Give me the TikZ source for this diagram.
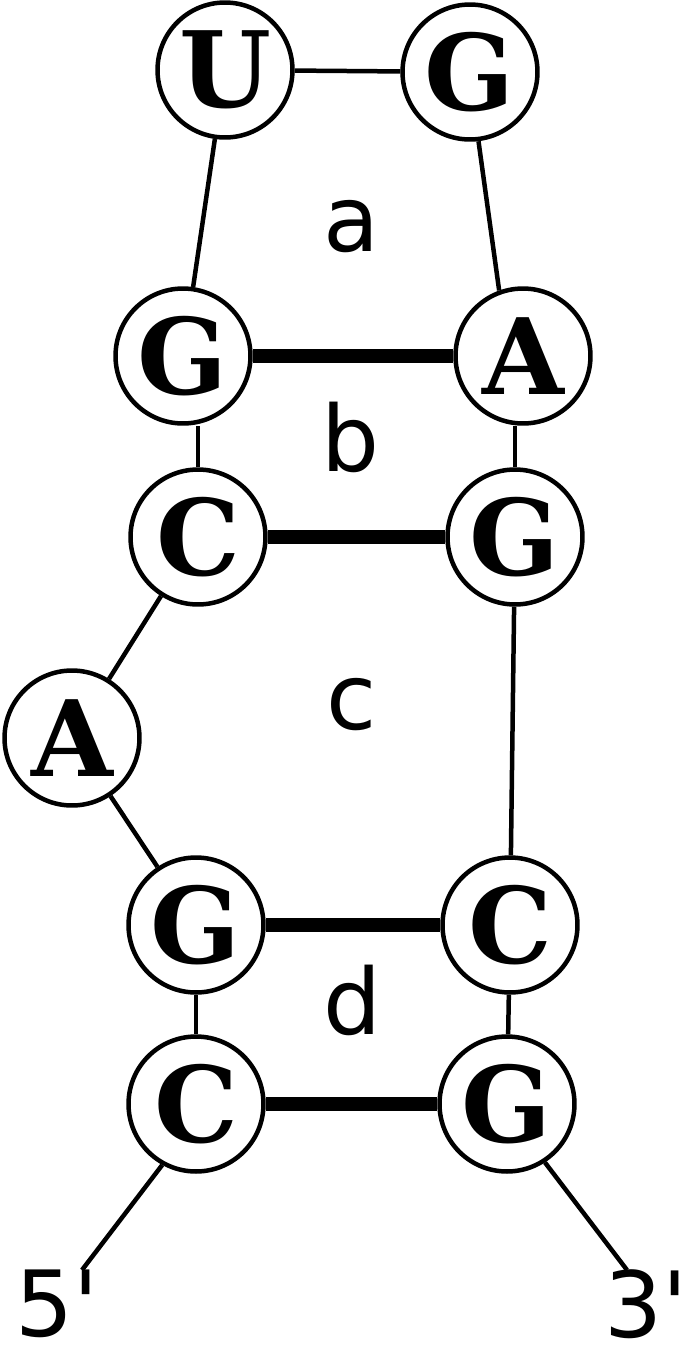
\documentclass[tikz,border=0pt]{standalone}
\usepackage{fontspec}
\setmainfont{DejaVu Sans}
\newfontfamily\nucfont{DejaVu Serif}
\usepackage{tikz}

\begin{document}
\begin{tikzpicture}[x=0.02cm, y=-0.02cm,
  nuc/.style={draw, circle, line width=0.09cm, minimum size=2.7cm, inner sep=0pt,
    font=\nucfont\bfseries\fontsize{60}{60}\selectfont},
  tag/.style={inner sep=0pt, font=\fontsize{52}{60}\selectfont},
  chain/.style={line width=0.09cm},
  pair/.style={line width=0.28cm}]

\useasboundingbox (0,0) rectangle (685,1353);

% hairpin loop (a)
\node[nuc] (u1) at (225,70) {U};
\node[nuc] (g1) at (470,72) {G};
\node[nuc] (g2) at (183,356) {G};
\node[nuc] (a1) at (523,356) {A};
\draw[chain] (u1) -- (g1);
\draw[chain] (u1) -- (g2);
\draw[chain] (g1.277) -- (a1.110);
\node[tag] (la) at (351,227) {a};

% first stem (b)
\node[nuc] (c1) at (198,537) {C};
\node[nuc] (g3) at (515,537) {G};
\draw[pair] (g2) -- (a1);
\draw[pair] (c1) -- (g3);
\draw[chain] (c1.north) -- (c1.north |- g2.south);
\draw[chain] (g3.north) -- (g3.north |- a1.south);
\node[tag] (lb) at (350,437) {b};

% bulge with the extra A (c)
\node[nuc] (a2) at (72,738) {A};
\node[nuc] (g4) at (196,925) {G};
\node[nuc] (c2) at (510,925) {C};
\draw[chain] (c1) -- (a2);
\draw[chain] (a2) -- (g4);
\draw[chain] (g3) -- (c2);
\node[tag] (lc) at (352,705) {c};

% second stem (d)
\node[nuc] (c3) at (196,1104) {C};
\node[nuc] (g5) at (507,1104) {G};
\draw[pair] (g4) -- (c2);
\draw[pair] (c3) -- (g5);
\draw[chain] (g4) -- (c3);
\draw[chain] (c2) -- (g5);
\node[tag] (ld) at (352,1000) {d};

% free ends
\coordinate (end5) at (82,1270);
\coordinate (end3) at (627,1270);
\draw[chain] (c3.241) -- (end5);
\draw[chain] (g5.303) -- (end3);
\node[tag] (p5) at (57,1304) {5\textquotesingle};
\node[tag] (p3) at (646,1304) {3\textquotesingle};

\end{tikzpicture}
\end{document}
